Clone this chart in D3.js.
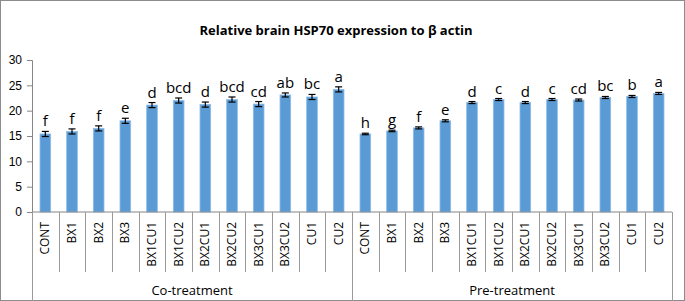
<!DOCTYPE html>
<html>
<head>
<meta charset="utf-8">
<script src="https://cdn.jsdelivr.net/npm/d3@7"></script>
<style>
  body { margin: 0; background: #fff; }
  svg { font-family: "Open Sans", "Liberation Sans", sans-serif; }
</style>
</head>
<body>
<div id="chart"></div>
<script>
// treatments within each group
const treatments = ["CONT", "BX1", "BX2", "BX3", "BX1CU1", "BX1CU2", "BX2CU1", "BX2CU2", "BX3CU1", "BX3CU2", "CU1", "CU2"];
const groups = ["Co-treatment", "Pre-treatment"];

// values
const coValues = [15.4, 15.9, 16.5, 18.0, 21.1, 22.0, 21.2, 22.2, 21.3, 23.1, 22.7, 24.2];
const coErrors = [0.5, 0.5, 0.5, 0.5, 0.5, 0.5, 0.5, 0.5, 0.5, 0.4, 0.5, 0.5];
const coLetters = ["f", "f", "f", "e", "d", "bcd", "d", "bcd", "cd", "ab", "bc", "a"];

const preValues = [15.4, 16.0, 16.6, 18.0, 21.6, 22.2, 21.6, 22.2, 22.1, 22.6, 22.8, 23.4];
const preErrors = [0.15, 0.15, 0.2, 0.2, 0.2, 0.2, 0.2, 0.2, 0.2, 0.2, 0.2, 0.2];
const preLetters = ["h", "g", "f", "e", "d", "c", "d", "c", "cd", "bc", "b", "a"];

const yTicks = [0, 5, 10, 15, 20, 25, 30];

const data = [];
groups.forEach((g, gi) => {
    const vals = gi === 0 ? coValues : preValues,
          errs = gi === 0 ? coErrors : preErrors,
          lets = gi === 0 ? coLetters : preLetters;
    treatments.forEach((t, i) => {
        data.push({ key: g + "|" + t, group: g, name: t, value: vals[i], err: errs[i], letter: lets[i] });
    });
});

const width = 685,
      height = 301,
      margin = ({ top: 60, right: 13, bottom: 89, left: 32 });

let svg = d3.select("#chart")
    .append("svg")
    .attr("width", width)
    .attr("height", height)
    .attr("viewBox", [0, 0, width, height]);

// outer frame
svg.append("rect")
    .attr("x", 0.5).attr("y", 0.5)
    .attr("width", width - 1).attr("height", height - 1)
    .attr("fill", "none")
    .attr("stroke", "#8c8c8c");

svg.append("text")
    .attr("x", 336)
    .attr("y", 35)
    .attr("text-anchor", "middle")
    .style("font-size", "13px")
    .style("font-weight", "bold")
    .text("Relative brain HSP70 expression to β actin");

let x = d3.scaleBand()
    .domain(data.map(d => d.key))
    .range([margin.left, width - margin.right])
    .paddingInner(0.6)
    .paddingOuter(0.3);

let y = d3.scaleLinear()
    .domain([0, 30])
    .range([height - margin.bottom, margin.top]);

// y axis
let yAxis = svg.append("g")
    .attr("transform", `translate(${margin.left},0)`)
    .call(d3.axisLeft(y).tickValues(yTicks).tickSize(5).tickPadding(5));
yAxis.select(".domain").attr("stroke", "#868686");
yAxis.selectAll(".tick line").attr("stroke", "#868686");
yAxis.selectAll(".tick text").style("font-size", "12px").attr("fill", "#000");

// bars
svg.append("g")
    .selectAll("rect")
    .data(data)
    .join("rect")
    .attr("x", d => x(d.key))
    .attr("y", d => y(d.value))
    .attr("width", x.bandwidth())
    .attr("height", d => y(0) - y(d.value))
    .attr("fill", "#5b9bd5")
    .attr("stroke", "#8fbbe6")
    .attr("stroke-width", 0.8);

// error bars
let eb = svg.append("g")
    .attr("stroke", "#000")
    .attr("stroke-width", 1.2)
    .selectAll("g")
    .data(data)
    .join("g")
    .attr("transform", d => `translate(${x(d.key) + x.bandwidth() / 2},0)`);
eb.append("line")
    .attr("y1", d => y(d.value - d.err)).attr("y2", d => y(d.value + d.err));
eb.append("line")
    .attr("x1", -3.5).attr("x2", 3.5)
    .attr("y1", d => y(d.value + d.err)).attr("y2", d => y(d.value + d.err));
eb.append("line")
    .attr("x1", -3.5).attr("x2", 3.5)
    .attr("y1", d => y(d.value - d.err)).attr("y2", d => y(d.value - d.err));

// significance letters
svg.append("g")
    .selectAll("text")
    .data(data)
    .join("text")
    .attr("x", d => x(d.key) + x.bandwidth() / 2)
    .attr("y", d => y(d.value + d.err) - 5)
    .attr("text-anchor", "middle")
    .style("font-size", "15px")
    .text(d => d.letter);

// x axis with two levels of category labels
const step = x.step(),
      gap = step * x.paddingOuter(),
      x0 = margin.left,
      x1 = width - margin.right,
      y0 = y(0);

svg.append("line")
    .attr("x1", x0).attr("x2", x1)
    .attr("y1", y0).attr("y2", y0)
    .attr("stroke", "#868686");

// separators between treatments (group boundaries run to the bottom)
svg.append("g")
    .selectAll("line")
    .data(data)
    .join("line")
    .attr("x1", d => Math.round(x(d.key) - gap) + 0.5)
    .attr("x2", d => Math.round(x(d.key) - gap) + 0.5)
    .attr("y1", y0)
    .attr("y2", (d, i) => i % treatments.length === 0 ? height : 272)
    .attr("stroke", "#9a9a9a");

svg.append("line")
    .attr("x1", x1 + 0.5).attr("x2", x1 + 0.5)
    .attr("y1", y0).attr("y2", height)
    .attr("stroke", "#9a9a9a");

svg.append("g")
    .selectAll("text")
    .data(data)
    .join("text")
    .attr("transform", d => `translate(${x(d.key) + x.bandwidth() / 2 + 4},222) rotate(-90)`)
    .attr("text-anchor", "end")
    .style("font-size", "12px")
    .text(d => d.name);

svg.append("g")
    .selectAll("text")
    .data(groups)
    .join("text")
    .attr("x", (g, gi) => x0 + (gi + 0.5) * step * treatments.length)
    .attr("y", 295)
    .attr("text-anchor", "middle")
    .style("font-size", "13px")
    .text(g => g);
</script>
</body>
</html>
